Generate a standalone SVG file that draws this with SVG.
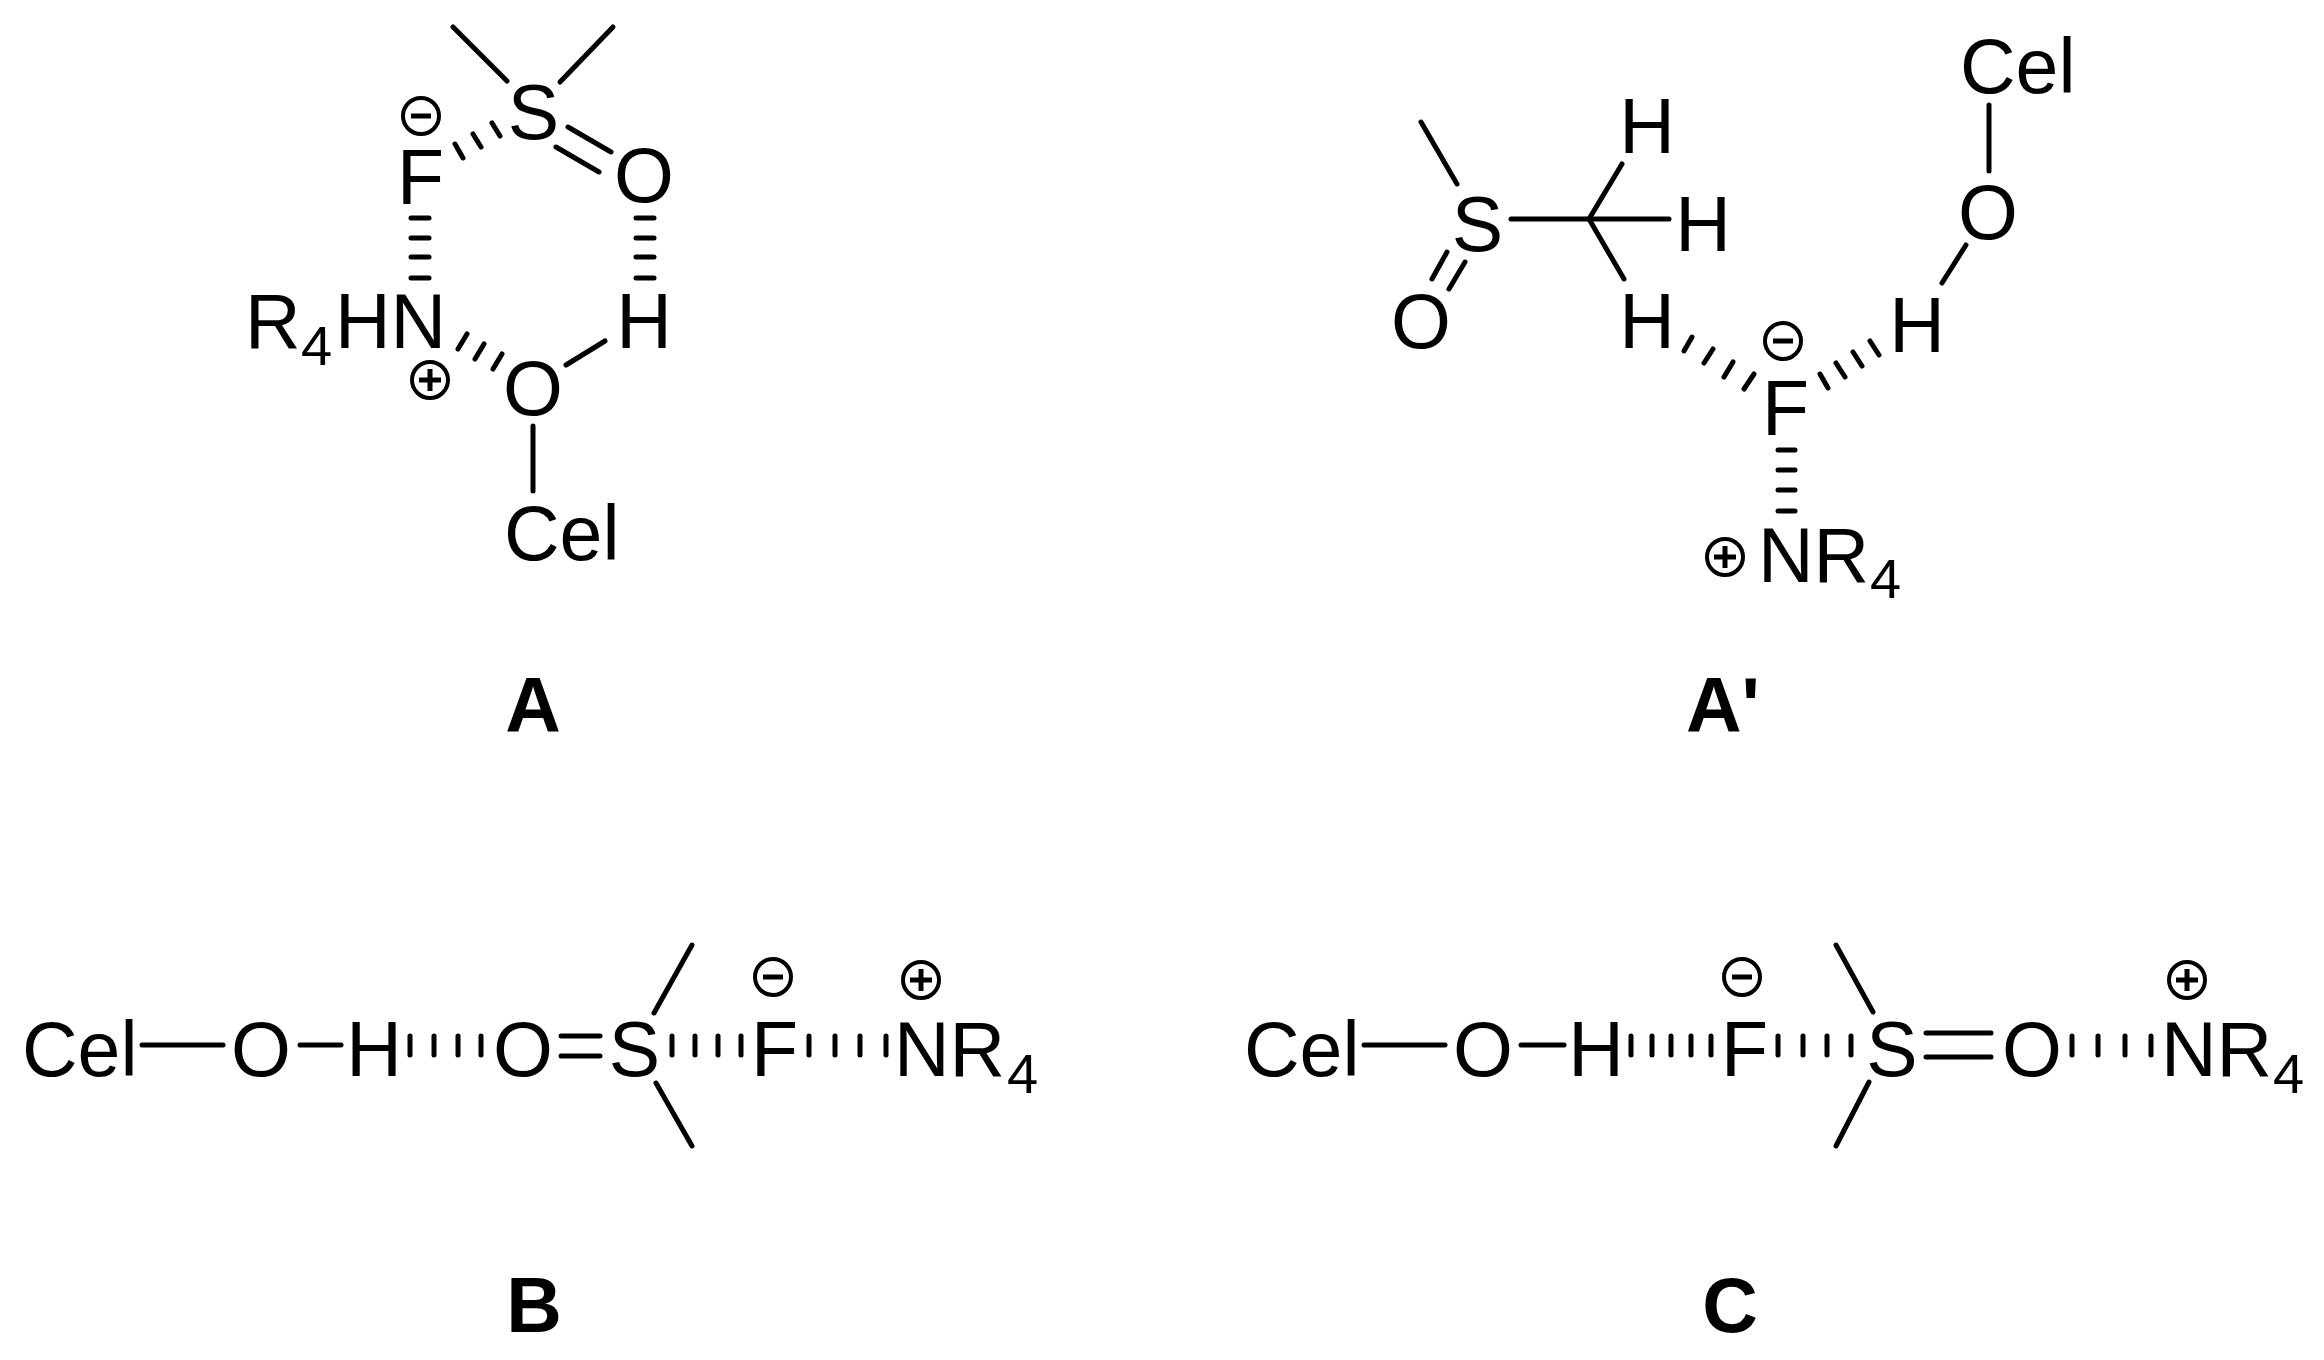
<svg xmlns="http://www.w3.org/2000/svg" width="2324" height="1360" viewBox="0 0 2324 1360">
<style>
text{font-family:"Liberation Sans",Arial,sans-serif;font-size:77px;fill:#000}
.m{text-anchor:middle}
.s{font-size:56px}
.b{font-weight:bold}
line{stroke:#000;stroke-width:5;stroke-linecap:round;fill:none}
.r{fill:none;stroke:#000;stroke-width:4}
</style>
<defs>
<g id="minus"><circle class="r" r="18"/><line x1="-10" x2="10" y1="0" y2="0" style="stroke-linecap:butt"/></g>
<g id="plus"><circle class="r" r="18"/><line x1="-11" x2="11" y1="0" y2="0" style="stroke-linecap:butt"/><line y1="-11" y2="11" x1="0" x2="0" style="stroke-linecap:butt"/></g>
</defs>
<rect width="2324" height="1360" fill="#fff"/>
<g id="connectors">
<!-- A -->
<line x1="453" y1="27" x2="507" y2="81"/><line x1="613" y1="27" x2="560" y2="82"/>
<line x1="463" y1="158" x2="455" y2="144"/><line x1="481" y1="147" x2="473" y2="134"/><line x1="500" y1="136" x2="492" y2="123"/>
<line x1="568" y1="127" x2="611" y2="152"/><line x1="556" y1="147" x2="599" y2="172"/>
<line x1="411" y1="218" x2="429" y2="218"/><line x1="411" y1="238" x2="429" y2="238"/><line x1="411" y1="257" x2="429" y2="257"/><line x1="411" y1="278" x2="429" y2="278"/>
<line x1="636" y1="218" x2="654" y2="218"/><line x1="636" y1="238" x2="654" y2="238"/><line x1="636" y1="257" x2="654" y2="257"/><line x1="636" y1="278" x2="654" y2="278"/>
<line x1="467" y1="334" x2="458" y2="349"/><line x1="484" y1="344" x2="475" y2="359"/><line x1="502" y1="354" x2="493" y2="369"/>
<line x1="566" y1="365" x2="605" y2="341"/><line x1="533" y1="426" x2="533" y2="491"/>
<!-- A' -->
<line x1="1989" y1="105" x2="1989" y2="171"/><line x1="1966" y1="245" x2="1942" y2="283"/>
<line x1="1421" y1="122" x2="1457" y2="184"/><line x1="1511" y1="219" x2="1669" y2="219"/><line x1="1589" y1="219" x2="1622" y2="164"/><line x1="1589" y1="219" x2="1624" y2="279"/>
<line x1="1447" y1="252" x2="1432" y2="279"/><line x1="1465" y1="262" x2="1449" y2="289"/>
<line x1="1692" y1="337" x2="1684" y2="351"/><line x1="1713" y1="349" x2="1704" y2="363"/><line x1="1733" y1="362" x2="1724" y2="377"/><line x1="1754" y1="374" x2="1744" y2="389"/>
<line x1="1870" y1="341" x2="1879" y2="355"/><line x1="1853" y1="352" x2="1862" y2="366"/><line x1="1836" y1="363" x2="1845" y2="377"/><line x1="1820" y1="374" x2="1828" y2="388"/>
<line x1="1778" y1="450" x2="1795" y2="450"/><line x1="1778" y1="470" x2="1795" y2="470"/><line x1="1778" y1="490" x2="1795" y2="490"/><line x1="1778" y1="511" x2="1795" y2="511"/>
<!-- B -->
<line x1="142" y1="1045" x2="223" y2="1045"/><line x1="300" y1="1045" x2="341" y2="1045"/>
<line x1="410" y1="1036" x2="410" y2="1055"/><line x1="434" y1="1036" x2="434" y2="1055"/><line x1="458" y1="1036" x2="458" y2="1055"/><line x1="481" y1="1036" x2="481" y2="1055"/>
<line x1="561" y1="1036" x2="600" y2="1036"/><line x1="561" y1="1056" x2="600" y2="1056"/>
<line x1="654" y1="1013" x2="692" y2="945"/><line x1="656" y1="1083" x2="692" y2="1146"/>
<line x1="672" y1="1036" x2="672" y2="1055"/><line x1="695" y1="1036" x2="695" y2="1055"/><line x1="718" y1="1036" x2="718" y2="1055"/><line x1="741" y1="1036" x2="741" y2="1055"/>
<line x1="809" y1="1036" x2="809" y2="1055"/><line x1="835" y1="1036" x2="835" y2="1055"/><line x1="860" y1="1036" x2="860" y2="1055"/><line x1="886" y1="1036" x2="886" y2="1055"/>
<!-- C -->
<line x1="1364" y1="1045" x2="1445" y2="1045"/><line x1="1521" y1="1045" x2="1564" y2="1045"/>
<line x1="1631" y1="1036" x2="1631" y2="1055"/><line x1="1652" y1="1036" x2="1652" y2="1055"/><line x1="1671" y1="1036" x2="1671" y2="1055"/><line x1="1691" y1="1036" x2="1691" y2="1055"/><line x1="1711" y1="1036" x2="1711" y2="1055"/>
<line x1="1778" y1="1036" x2="1778" y2="1055"/><line x1="1803" y1="1036" x2="1803" y2="1055"/><line x1="1827" y1="1036" x2="1827" y2="1055"/><line x1="1851" y1="1036" x2="1851" y2="1055"/>
<line x1="1873" y1="1012" x2="1836" y2="945"/><line x1="1869" y1="1082" x2="1836" y2="1146"/>
<line x1="1926" y1="1033" x2="1991" y2="1033"/><line x1="1926" y1="1057" x2="1991" y2="1057"/>
<line x1="2072" y1="1036" x2="2072" y2="1055"/><line x1="2098" y1="1036" x2="2098" y2="1055"/><line x1="2125" y1="1036" x2="2125" y2="1055"/><line x1="2151" y1="1036" x2="2151" y2="1055"/>
</g>
<g id="mol-A">
<g id="a-S"><text class="m" x="533.5" y="139">S</text></g>
<g id="a-F"><text x="397" y="204">F</text><use href="#minus" x="421" y="116"/></g>
<g id="a-O1"><text class="m" x="644" y="202">O</text></g>
<g id="a-H"><text class="m" x="644" y="348">H</text></g>
<g id="a-N"><text x="245" y="348">R<tspan class="s" x="301" y="365">4</tspan><tspan x="335" y="348">HN</tspan></text><use href="#plus" x="430" y="380"/></g>
<g id="a-O2"><text class="m" x="533" y="415">O</text></g>
<g id="a-Cel"><text x="504" y="560">Cel</text></g>
<g id="a-label"><text class="m b" x="533" y="732">A</text></g>
</g>
<g id="mol-A-prime">
<g id="p-Cel"><text x="1960" y="93">Cel</text></g>
<g id="p-O"><text class="m" x="1988" y="239">O</text></g>
<g id="p-H4"><text class="m" x="1917" y="352">H</text></g>
<g id="p-S"><text class="m" x="1477.5" y="251">S</text></g>
<g id="p-H1"><text class="m" x="1647" y="153">H</text></g>
<g id="p-H2"><text class="m" x="1703" y="251">H</text></g>
<g id="p-H3"><text class="m" x="1647" y="348">H</text></g>
<g id="p-O2"><text class="m" x="1421" y="348">O</text></g>
<g id="p-F"><text x="1762" y="435">F</text><use href="#minus" x="1783" y="341"/></g>
<g id="p-N"><text x="1758" y="582">NR<tspan class="s" x="1870" y="598">4</tspan></text><use href="#plus" x="1725" y="557"/></g>
<g id="p-label"><text class="b" x="1686" y="732">A'</text></g>
</g>
<g id="mol-B">
<g id="b-Cel"><text x="22" y="1076">Cel</text></g>
<g id="b-O1"><text class="m" x="261" y="1076">O</text></g>
<g id="b-H"><text class="m" x="374" y="1076">H</text></g>
<g id="b-O2"><text class="m" x="523" y="1076">O</text></g>
<g id="b-S"><text class="m" x="634.5" y="1076">S</text></g>
<g id="b-F"><text x="751" y="1076">F</text><use href="#minus" x="773" y="977"/></g>
<g id="b-N"><text x="894" y="1076">NR<tspan class="s" x="1007" y="1093">4</tspan></text><use href="#plus" x="921" y="980"/></g>
<g id="b-label"><text class="m b" x="534" y="1332">B</text></g>
</g>
<g id="mol-C">
<g id="c-Cel"><text x="1244" y="1076">Cel</text></g>
<g id="c-O1"><text class="m" x="1483" y="1076">O</text></g>
<g id="c-H"><text class="m" x="1596" y="1076">H</text></g>
<g id="c-F"><text x="1721" y="1076">F</text><use href="#minus" x="1742" y="977"/></g>
<g id="c-S"><text class="m" x="1892" y="1076">S</text></g>
<g id="c-O2"><text class="m" x="2032" y="1076">O</text></g>
<g id="c-N"><text x="2161" y="1076">NR<tspan class="s" x="2273" y="1093">4</tspan></text><use href="#plus" x="2187" y="980"/></g>
<g id="c-label"><text class="m b" x="1730" y="1332">C</text></g>
</g>
</svg>
